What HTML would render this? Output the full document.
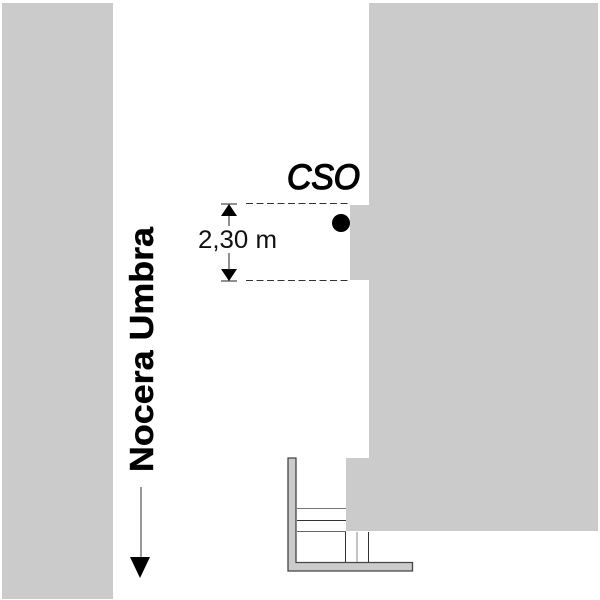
<!DOCTYPE html>
<html>
<head>
<meta charset="utf-8">
<style>
html,body{margin:0;padding:0;background:#fff;width:600px;height:600px;overflow:hidden}
svg{display:block}
text{font-family:"Liberation Sans",Arial,sans-serif;fill:#000}
</style>
</head>
<body>
<svg width="600" height="600" viewBox="0 0 600 600" xmlns="http://www.w3.org/2000/svg">
<rect width="600" height="600" fill="#fff"/>
<rect x="2" y="3" width="111" height="596" fill="#cbcbcb"/>
<path d="M369 3H598V531H346V458H369V280H350V205H369Z" fill="#cbcbcb"/>
<!-- L wall -->
<path d="M288 458H296V562.500H412.500V571H288Z" fill="#cbcbcb" stroke="#444" stroke-width="1.300"/>
<g stroke-width="1" fill="none">
<path d="M297 508.500H346" stroke="#777"/>
<path d="M297 520.500H346" stroke="#333"/>
<path d="M297 531.500H346" stroke="#666"/>
<path d="M345.500 532V562" stroke="#333"/>
<path d="M357 532V562" stroke="#888"/>
<path d="M368.500 532V562" stroke="#333"/>
</g>
<!-- dimension -->
<path d="M246 203.500H349M246 280.500H350" stroke="#333" stroke-width="1" stroke-dasharray="7 3.500" fill="none"/>
<path d="M221 204H237M221 281H237" stroke="#222" stroke-width="1"/>
<path d="M229 204L237 216H221Z M229 281L221 269H237Z" fill="#000"/>
<path d="M229 216V226M229 253V270" stroke="#222" stroke-width="1"/>
<circle cx="341" cy="223" r="9" fill="#000"/>
<text x="198" y="248" font-size="25" textLength="79" lengthAdjust="spacingAndGlyphs" style="fill:#111">2,30 m</text>
<text x="287" y="189" font-size="35" font-style="italic" textLength="73" lengthAdjust="spacingAndGlyphs" style="stroke:#000;stroke-width:1.300px">CSO</text>
<text transform="translate(153 472) rotate(-90)" font-size="33" font-weight="bold" textLength="245" lengthAdjust="spacingAndGlyphs" style="stroke:#000;stroke-width:.4px">Nocera Umbra</text>
<path d="M141 487V558" stroke="#333" stroke-width="1"/>
<path d="M130 557H150L140 578Z" fill="#000"/>
</svg>
</body>
</html>
